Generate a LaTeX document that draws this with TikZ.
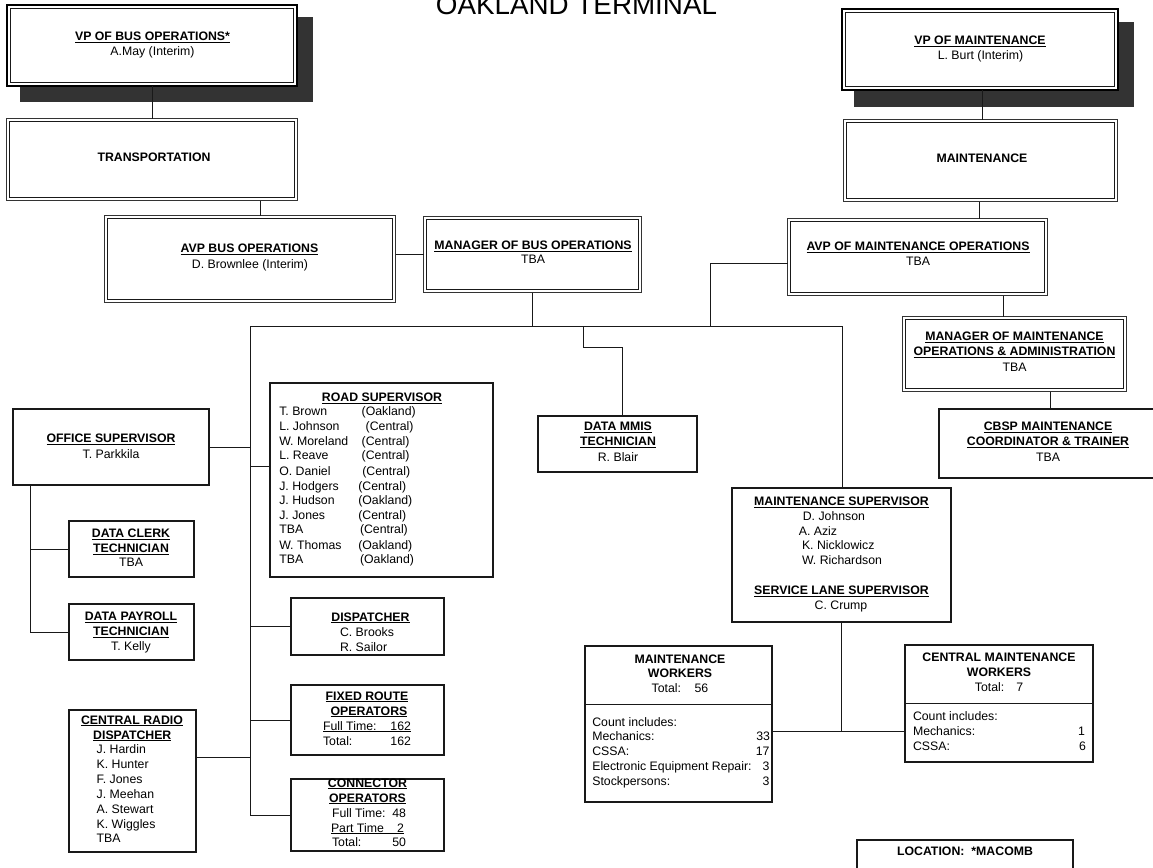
\documentclass[tikz,border=0pt]{standalone}
\usepackage{fontspec}
\setmainfont{Liberation Sans}
\newcommand\myul[1]{\setbox0\hbox{#1}\rlap{\rule[-2pt]{\wd0}{1.1pt}}\box0}
\tikzset{
 ln/.style={draw=black!90, line width=1pt},
 sbox/.style={draw=black!90, line width=1.1pt, fill=white, inner sep=0pt, outer sep=0pt},
 dbox/.style={draw=black!80, line width=1.2pt, fill=white, inner sep=0pt, outer sep=0pt},
 vpbox/.style={draw=black, line width=2pt, fill=white, inner sep=0pt, outer sep=0pt},
 txt/.style={inner sep=0pt, outer sep=0pt, font=\fontsize{12.3}{14.8}\selectfont, anchor=mid},
 hd/.style={txt, font=\fontsize{12.3}{14.8}\selectfont\bfseries},
 shadowc/.style={fill=black!80},
}
\newcommand\mkbox[6][sbox]{%
 \pgfmathsetmacro\mybw{#5-#3}\pgfmathsetmacro\mybh{#6-#4}%
 \pgfmathsetmacro\mycx{(#3+#5)/2}\pgfmathsetmacro\mycy{(#4+#6)/2}%
 \node[#1, minimum width=\mybw pt, minimum height=\mybh pt] (#2) at (\mycx,\mycy) {};}
\newcommand\inbox[3]{\draw[draw=black!90, line width=#3pt] ([shift={(#2,#2)}]#1.north west) rectangle ([shift={(-#2,-#2)}]#1.south east);}
\newcommand\tx[5][]{\node[txt,#1] (#2) at (#3,#4) {#5};}
\newcommand\hx[5][]{\node[hd,#1] (#2) at (#3,#4) {#5};}
\begin{document}
\begin{tikzpicture}[x=1pt,y=-1pt]
\useasboundingbox (0,0) rectangle (1153,867);
\clip (0,0) rectangle (1153,867);
\fill[white] (0,0) rectangle (1153,867);
% title
\node[font=\fontsize{27.8}{30}\selectfont, anchor=base, inner sep=0pt] (title) at (576.5,15) {OAKLAND TERMINAL};
% shadows
\fill[shadowc] (20,17) rectangle (313,102);
\fill[shadowc] (854,22) rectangle (1134,107);
% boxes
\mkbox[vpbox]{vpbus}{7}{5}{297}{86}
\inbox{vpbus}{3.5}{1}
\mkbox[dbox]{transp}{6.5}{118.5}{297.5}{200.5}
\inbox{transp}{3.2}{1}
\mkbox[dbox]{avpbus}{104.5}{215.5}{395.5}{302.5}
\inbox{avpbus}{3.2}{1}
\mkbox[dbox]{mgrbus}{423.5}{216.5}{641.5}{292.5}
\inbox{mgrbus}{3.2}{1}
\mkbox[vpbox]{vpmaint}{842}{9}{1118}{90}
\inbox{vpmaint}{3.5}{1}
\mkbox[dbox]{maint}{843.5}{119.5}{1117.5}{201.5}
\inbox{maint}{3.2}{1}
\mkbox[dbox]{avpmaint}{787.5}{218.5}{1047.5}{295.5}
\inbox{avpmaint}{3.2}{1}
\mkbox[dbox]{mgrmaint}{902.5}{316.5}{1126.5}{391.5}
\inbox{mgrmaint}{3.2}{1}
\mkbox{cbsp}{939}{409}{1165}{478}
\mkbox{office}{13}{409}{209}{485}
\mkbox{road}{270}{383}{493}{577}
\mkbox{mmis}{538}{416}{697}{472}
\mkbox{msup}{732}{488}{951}{622}
\mkbox{clerk}{69}{521}{194}{577}
\mkbox{payroll}{69}{604}{194}{660}
\mkbox{radio}{69}{710}{196}{852}
\mkbox{disp}{291}{598}{444}{655}
\mkbox{fixed}{291}{685}{444}{755}
\mkbox{conn}{291}{779}{444}{851}
\mkbox{mworkers}{585}{646}{772}{802}
\mkbox{cworkers}{905}{645}{1093}{762}
\mkbox{location}{857}{840}{1073}{885}
% dividers
\coordinate (mwd) at (0,704);
\coordinate (cwd) at (0,703);
\draw[ln] (mworkers.west |- mwd) -- (mworkers.east |- mwd);
\draw[ln] (cworkers.west |- cwd) -- (cworkers.east |- cwd);
% connectors
\draw[ln] (vpbus.south) -- (transp.north);
\coordinate (c1) at (260,0);
\draw[ln] (transp.south -| c1) -- (avpbus.north -| c1);
\coordinate (c2) at (0,254);
\draw[ln] (avpbus.east |- c2) -- (mgrbus.west |- c2);
\coordinate (busL) at (250,326);
\coordinate (busR) at (842,326);
\coordinate (busB) at (250,815);
\draw[ln] (mgrbus.south) -- (mgrbus.south |- busL);
\draw[ln] (busL) -- (busR);
\coordinate (c3) at (710,263);
\draw[ln] (avpmaint.west |- c3) -- (c3) -- (c3 |- busL);
\coordinate (c4) at (583,347);
\coordinate (c5) at (622,347);
\draw[ln] (c4 |- busL) -- (c4) -- (c5) -- (c5 |- mmis.north);
\draw[ln] (busR) -- (busR |- msup.north);
\draw[ln] (busL) -- (busB);
\draw[ln] (office.east) -- (office.east -| busL);
\coordinate (c6) at (250,466);
\draw[ln] (c6) -- (road.west |- c6);
\draw[ln] (disp.west -| busL) -- (disp.west);
\draw[ln] (fixed.west -| busL) -- (fixed.west);
\draw[ln] (busB) -- (conn.west);
\coordinate (c7) at (0,757);
\draw[ln] (radio.east |- c7) -- (busL |- c7);
\coordinate (c8) at (30,0);
\draw[ln] (office.south -| c8) -- (payroll.west -| c8);
\draw[ln] (clerk.west -| c8) -- (clerk.west);
\draw[ln] (payroll.west -| c8) -- (payroll.west);
\coordinate (c9) at (982,0);
\draw[ln] (vpmaint.south -| c9) -- (maint.north -| c9);
\coordinate (c10) at (979,0);
\draw[ln] (maint.south -| c10) -- (avpmaint.north -| c10);
\coordinate (c11) at (1003,0);
\draw[ln] (avpmaint.south -| c11) -- (mgrmaint.north -| c11);
\coordinate (c12) at (1050,0);
\draw[ln] (mgrmaint.south -| c12) -- (cbsp.north -| c12);
\coordinate (c13) at (0,731);
\draw[ln] (msup.south) -- (msup.south |- c13);
\draw[ln] (mworkers.east |- c13) -- (cworkers.west |- c13);
% texts: top
\hx{tvp1}{152.5}{38}{\myul{VP OF BUS OPERATIONS*}}
\tx{tvp2}{152.5}{53}{A.May (Interim)}
\hx{ttr}{154}{159}{TRANSPORTATION}
\hx{tavp1}{249.5}{250}{\myul{AVP BUS OPERATIONS}}
\tx{tavp2}{250}{266}{D. Brownlee (Interim)}
\hx{tmb1}{533}{247}{\myul{MANAGER OF BUS OPERATIONS}}
\tx{tmb2}{533}{261}{TBA}
\hx{tvm1}{980}{42}{\myul{VP OF MAINTENANCE}}
\tx{tvm2}{980.5}{57}{L. Burt (Interim)}
\hx{tma}{982}{160}{MAINTENANCE}
\hx{tam1}{918}{248}{\myul{AVP OF MAINTENANCE OPERATIONS}}
\tx{tam2}{918}{263}{TBA}
\hx{tmm1}{1014.5}{338}{\myul{MANAGER OF MAINTENANCE}}
\hx{tmm2}{1014.5}{353}{\myul{OPERATIONS \& ADMINISTRATION}}
\tx{tmm3}{1014.5}{369}{TBA}
\hx{tcb1}{1048}{428}{\myul{CBSP MAINTENANCE}}
\hx{tcb2}{1048}{443}{\myul{COORDINATOR \& TRAINER}}
\tx{tcb3}{1048}{459}{TBA}
% office
\hx{tof1}{111}{440}{\myul{OFFICE SUPERVISOR}}
\tx{tof2}{111}{456}{T. Parkkila}
% road supervisor
\hx{trs}{382}{399}{\myul{ROAD SUPERVISOR}}
\tx[anchor=mid west]{tr1a}{279.3}{413.3}{T. Brown}
\tx[anchor=mid west]{tr1b}{361.7}{413.3}{(Oakland)}
\tx[anchor=mid west]{tr2a}{279.3}{427.8}{L. Johnson}
\tx[anchor=mid west]{tr2b}{365.7}{427.8}{(Central)}
\tx[anchor=mid west]{tr3a}{279.3}{442.4}{W. Moreland}
\tx[anchor=mid west]{tr3b}{361.7}{442.4}{(Central)}
\tx[anchor=mid west]{tr4a}{279.3}{457}{L. Reave}
\tx[anchor=mid west]{tr4b}{361.7}{457}{(Central)}
\tx[anchor=mid west]{tr5a}{279.3}{472.6}{O. Daniel}
\tx[anchor=mid west]{tr5b}{362.3}{472.6}{(Central)}
\tx[anchor=mid west]{tr6a}{279.3}{487.5}{J. Hodgers}
\tx[anchor=mid west]{tr6b}{358.3}{487.5}{(Central)}
\tx[anchor=mid west]{tr7a}{279.3}{502}{J. Hudson}
\tx[anchor=mid west]{tr7b}{358.3}{502}{(Oakland)}
\tx[anchor=mid west]{tr8a}{279.3}{516.7}{J. Jones}
\tx[anchor=mid west]{tr8b}{358.3}{516.7}{(Central)}
\tx[anchor=mid west]{tr9a}{279.3}{531.2}{TBA}
\tx[anchor=mid west]{tr9b}{360}{531.2}{(Central)}
\tx[anchor=mid west]{tr10a}{279.3}{546.5}{W. Thomas}
\tx[anchor=mid west]{tr10b}{358.3}{546.5}{(Oakland)}
\tx[anchor=mid west]{tr11a}{279.3}{561.3}{TBA}
\tx[anchor=mid west]{tr11b}{360}{561.3}{(Oakland)}
% data mmis
\hx{tmi1}{618}{428}{\myul{DATA MMIS}}
\hx{tmi2}{618}{443}{\myul{TECHNICIAN}}
\tx{tmi3}{618}{459}{R. Blair}
% maintenance supervisor
\hx{tms1}{841.5}{503}{\myul{MAINTENANCE SUPERVISOR}}
\tx[anchor=mid west]{tms2}{802.8}{518}{D. Johnson}
\tx[anchor=mid west]{tms3}{798.8}{532.7}{A. Aziz}
\tx[anchor=mid west]{tms4}{802}{547}{K. Nicklowicz}
\tx[anchor=mid west]{tms5}{802}{562}{W. Richardson}
\hx{tms6}{841.5}{592}{\myul{SERVICE LANE SUPERVISOR}}
\tx{tms7}{841}{607}{C. Crump}
% data clerk / payroll
\hx{tdc1}{131}{535}{\myul{DATA CLERK}}
\hx{tdc2}{131}{550}{\myul{TECHNICIAN}}
\tx{tdc3}{131}{564}{TBA}
\hx{tdp1}{131}{618}{\myul{DATA PAYROLL}}
\hx{tdp2}{131}{633}{\myul{TECHNICIAN}}
\tx{tdp3}{131}{648}{T. Kelly}
% central radio dispatcher
\hx{tcr1}{132}{721.7}{\myul{CENTRAL RADIO}}
\hx{tcr2}{132.3}{736.7}{\myul{DISPATCHER}}
\tx[anchor=mid west]{tcr3}{96.7}{750.7}{J. Hardin}
\tx[anchor=mid west]{tcr4}{96.7}{765.7}{K. Hunter}
\tx[anchor=mid west]{tcr5}{96.7}{780.7}{F. Jones}
\tx[anchor=mid west]{tcr6}{96.7}{795.7}{J. Meehan}
\tx[anchor=mid west]{tcr7}{96.7}{810.7}{A. Stewart}
\tx[anchor=mid west]{tcr8}{96.7}{825.7}{K. Wiggles}
\tx[anchor=mid west]{tcr9}{96.7}{839.5}{TBA}
% dispatcher
\hx{tds1}{370.5}{618.7}{\myul{DISPATCHER}}
\tx[anchor=mid west]{tds2}{340}{633.7}{C. Brooks}
\tx[anchor=mid west]{tds3}{340}{648.7}{R. Sailor}
% fixed route
\hx{tfr1}{367}{697.7}{\myul{FIXED ROUTE}}
\hx{tfr2}{369}{712.7}{\myul{OPERATORS}}
\tx[anchor=mid west]{tfr3}{323}{727.7}{\myul{\makebox[88pt][l]{Full Time:\hfill 162}}}
\tx[anchor=mid west]{tfr4}{323}{742.7}{\makebox[88pt][l]{Total:\hfill 162}}
% connector operators
\hx{tco1}{367.5}{784.7}{\myul{CONNECTOR}}
\hx{tco2}{367.5}{799.7}{\myul{OPERATORS}}
\tx[anchor=mid west]{tco3}{332}{814.7}{\makebox[74pt][l]{Full Time:\hfill 48}}
\tx[anchor=mid west]{tco4}{331}{829.7}{\myul{\makebox[73pt][l]{Part Time\hfill 2}}}
\tx[anchor=mid west]{tco5}{332}{844.3}{\makebox[74pt][l]{Total:\hfill 50}}
% maintenance workers
\hx{tmw1}{680}{661}{MAINTENANCE}
\hx{tmw2}{680}{675}{WORKERS}
\tx{tmw3}{680}{690}{Total:\hspace*{13.5pt}56}
\tx[anchor=mid west]{tmw4}{592.3}{723.7}{Count includes:}
\tx[anchor=mid west]{tmw5}{592.3}{737.7}{Mechanics:}
\tx[anchor=mid east]{tmw5n}{770}{737.7}{33}
\tx[anchor=mid west]{tmw6}{592.3}{752.7}{CSSA:}
\tx[anchor=mid east]{tmw6n}{769.5}{752.7}{17}
\tx[anchor=mid west]{tmw7}{592.3}{767.7}{Electronic Equipment Repair:}
\tx[anchor=mid east]{tmw7n}{769.5}{767.7}{3}
\tx[anchor=mid west]{tmw8}{592.3}{782.7}{Stockpersons:}
\tx[anchor=mid east]{tmw8n}{769.5}{782.7}{3}
% central maintenance workers
\hx{tcw1}{999}{659}{CENTRAL MAINTENANCE}
\hx{tcw2}{999}{674}{WORKERS}
\tx{tcw3}{999}{689}{Total:\hspace*{12pt}7}
\tx[anchor=mid west]{tcw4}{913}{717.7}{Count includes:}
\tx[anchor=mid west]{tcw5}{913}{733}{Mechanics:}
\tx[anchor=mid east]{tcw5n}{1085}{733}{1}
\tx[anchor=mid west]{tcw6}{913}{747.5}{CSSA:}
\tx[anchor=mid east]{tcw6n}{1086}{747.5}{6}
% location
\hx{tloc}{965}{853}{LOCATION:\hspace*{7pt}*MACOMB}
\end{tikzpicture}
\end{document}
